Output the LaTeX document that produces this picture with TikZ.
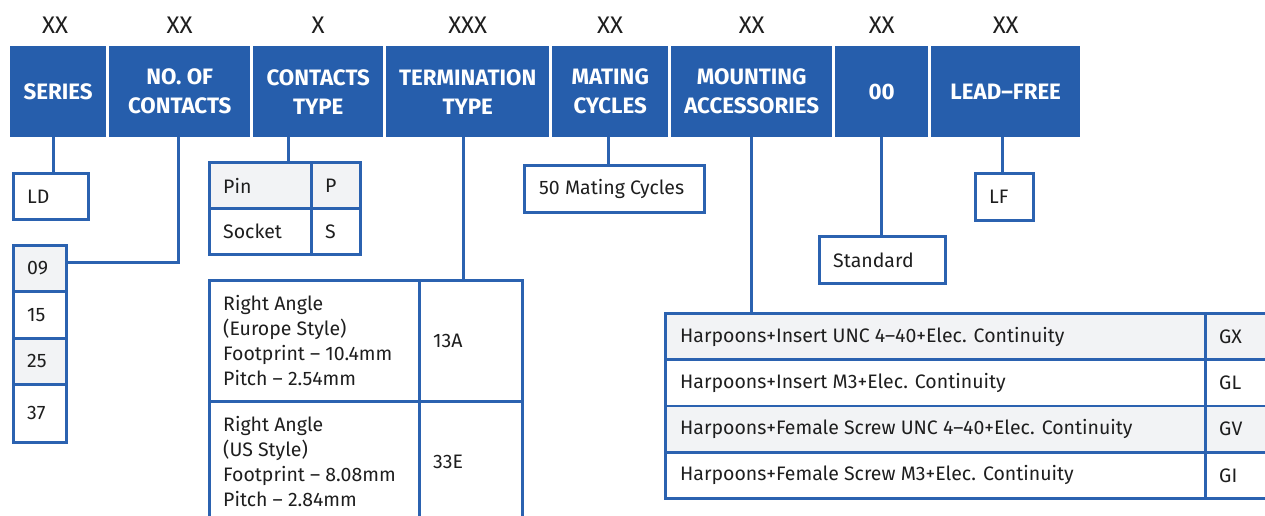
\documentclass[tikz,border=0pt]{standalone}
\usepackage{fontspec}
\setmainfont{Fira Sans}
\definecolor{hblue}{HTML}{265EAC}
\definecolor{lblue}{HTML}{2B62B0}
\definecolor{cgrey}{HTML}{F2F3F5}
\definecolor{txt}{HTML}{1E1E1E}
\begin{document}
\begin{tikzpicture}[x=1pt,y=-1pt,
  hdr/.style={fill=hblue, text=white, font=\fontsize{22.3}{29}\selectfont\bfseries, align=center, anchor=north west, inner sep=0pt, minimum height=91pt},
  code/.style={text=txt, font=\fontsize{24}{25}\selectfont, inner sep=0pt},
  cell/.style={draw=lblue, line width=2.9pt, anchor=north west, inner sep=0pt},
  shaded/.style={fill=cgrey},
  lbl/.style={anchor=west, align=left, inner sep=0pt, text=txt, font=\fontsize{19.5}{25}\selectfont},
  conn/.style={draw=lblue, line width=2.9pt}]
\useasboundingbox (0,0) rectangle (1265,515);
\clip (0,0) rectangle (1265,515);

% header boxes
\node[hdr, minimum width=96pt]  (series) at (10,46)  {SERIES};
\node[hdr, minimum width=141pt] (noc)    at (109,46) {NO. OF\\CONTACTS};
\node[hdr, minimum width=130pt] (ctype)  at (253,46) {CONTACTS\\TYPE};
\node[hdr, minimum width=163pt] (term)   at (386,46) {TERMINATION\\TYPE};
\node[hdr, minimum width=116pt] (mat)    at (552,46) {MATING\\CYCLES};
\node[hdr, minimum width=161pt] (mount)  at (671,46) {MOUNTING\\ACCESSORIES};
\node[hdr, minimum width=93pt]  (zz)     at (835,46) {00};
\node[hdr, minimum width=149pt] (lead)   at (931,46) {LEAD--FREE};

% code letters
\node[code] (c1) at ([xshift=-3pt,yshift=21pt]series.north) {XX};
\node[code] (c2) at ([yshift=21pt]noc.north)    {XX};
\node[code] (c3) at ([yshift=21pt]ctype.north)  {X};
\node[code] (c4) at ([yshift=21pt]term.north)   {XXX};
\node[code] (c5) at ([yshift=21pt]mat.north)    {XX};
\node[code] (c6) at ([yshift=21pt]mount.north)  {XX};
\node[code] (c7) at ([yshift=21pt]zz.north)     {XX};
\node[code] (c8) at ([yshift=21pt]lead.north)   {XX};

% series
\node[cell, minimum width=75pt, minimum height=46pt] (ld) at (12,172) {};
\node[lbl] (ldt) at ([xshift=15pt]ld.west) {LD};

% number of contacts
\node[cell, shaded, minimum width=53pt, minimum height=46pt] (n09) at (12,244) {};
\node[cell, minimum width=53pt, minimum height=47pt] (n15) at (12,290) {};
\node[cell, shaded, minimum width=53pt, minimum height=46pt] (n25) at (12,337) {};
\node[cell, minimum width=53pt, minimum height=58pt] (n37) at (12,383) {};
\node[lbl] (n09t) at ([xshift=15pt]n09.west) {09};
\node[lbl] (n15t) at ([xshift=15pt]n15.west) {15};
\node[lbl] (n25t) at ([xshift=15pt]n25.west) {25};
\node[lbl] (n37t) at ([xshift=15pt]n37.west) {37};

% contacts type
\node[cell, shaded, minimum width=102pt, minimum height=46pt] (pin) at (208,161) {};
\node[cell, shaded, minimum width=49pt, minimum height=46pt] (pinc) at (310,161) {};
\node[cell, minimum width=102pt, minimum height=46pt] (soc) at (208,207) {};
\node[cell, minimum width=49pt, minimum height=46pt] (socc) at (310,207) {};
\node[lbl] (pint) at ([xshift=15pt]pin.west) {Pin};
\node[lbl] (pinct) at ([xshift=15pt]pinc.west) {P};
\node[lbl] (soct) at ([xshift=15pt]soc.west) {Socket};
\node[lbl] (socct) at ([xshift=15pt]socc.west) {S};

% termination type
\node[cell, minimum width=210pt, minimum height=121pt] (ta) at (208,279) {};
\node[cell, minimum width=103pt, minimum height=121pt] (tac) at (418,279) {};
\node[cell, minimum width=210pt, minimum height=121pt] (tb) at (208,400) {};
\node[cell, minimum width=103pt, minimum height=121pt] (tbc) at (418,400) {};
\node[lbl] (tat) at ([xshift=15pt]ta.west) {Right Angle\\(Europe Style)\\Footprint -- 10.4mm\\Pitch -- 2.54mm};
\node[lbl] (tact) at ([xshift=15pt]tac.west) {13A};
\node[lbl] (tbt) at ([xshift=15pt]tb.west) {Right Angle\\(US Style)\\Footprint -- 8.08mm\\Pitch -- 2.84mm};
\node[lbl] (tbct) at ([xshift=15pt]tbc.west) {33E};

% mating cycles
\node[cell, minimum width=180pt, minimum height=47pt] (mc) at (523,164) {};
\node[lbl] (mct) at ([xshift=16pt]mc.west) {50 Mating Cycles};

% mounting accessories
\node[cell, shaded, minimum width=540pt, minimum height=46.25pt] (m1) at (664,312) {};
\node[cell, shaded, minimum width=100pt, minimum height=46.25pt] (m1c) at (1204,312) {};
\node[cell, minimum width=540pt, minimum height=46.25pt] (m2) at (664,358.25) {};
\node[cell, minimum width=100pt, minimum height=46.25pt] (m2c) at (1204,358.25) {};
\node[cell, shaded, minimum width=540pt, minimum height=46.25pt] (m3) at (664,404.5) {};
\node[cell, shaded, minimum width=100pt, minimum height=46.25pt] (m3c) at (1204,404.5) {};
\node[cell, minimum width=540pt, minimum height=46.25pt] (m4) at (664,450.75) {};
\node[cell, minimum width=100pt, minimum height=46.25pt] (m4c) at (1204,450.75) {};
\node[lbl] (m1t) at ([xshift=16pt]m1.west) {Harpoons+Insert UNC 4--40+Elec. Continuity};
\node[lbl] (m2t) at ([xshift=16pt]m2.west) {Harpoons+Insert M3+Elec. Continuity};
\node[lbl] (m3t) at ([xshift=16pt]m3.west) {Harpoons+Female Screw UNC 4--40+Elec. Continuity};
\node[lbl] (m4t) at ([xshift=16pt]m4.west) {Harpoons+Female Screw M3+Elec. Continuity};
\node[lbl] (m1ct) at ([xshift=15pt]m1c.west) {GX};
\node[lbl] (m2ct) at ([xshift=15pt]m2c.west) {GL};
\node[lbl] (m3ct) at ([xshift=15pt]m3c.west) {GV};
\node[lbl] (m4ct) at ([xshift=15pt]m4c.west) {GI};

% 00
\node[cell, minimum width=126pt, minimum height=47pt] (std) at (818,235) {};
\node[lbl] (stdt) at ([xshift=15pt]std.west) {Standard};

% lead free
\node[cell, minimum width=58pt, minimum height=47pt] (lf) at (974,172) {};
\node[lbl] (lft) at ([xshift=15pt]lf.west) {LF};

% connectors
\draw[conn] ([xshift=-5pt]series.south) -- ([xshift=-5pt]series.south |- ld.north);
\draw[conn] ([xshift=-1.5pt]noc.south) |- ([yshift=6pt]n09.east);
\draw[conn] ([xshift=-30pt]ctype.south) -- ([xshift=-30pt]ctype.south |- pin.north);
\draw[conn] ([xshift=-4.5pt]term.south) -- ([xshift=-4.5pt]term.south |- ta.north);
\draw[conn] ([xshift=-2pt]mat.south) -- ([xshift=-2pt]mat.south |- mc.north);
\draw[conn] (mount.south) -- (mount.south |- m1.north);
\draw[conn] (zz.south) -- (zz.south |- std.north);
\draw[conn] ([xshift=-3.5pt]lead.south) -- ([xshift=-3.5pt]lead.south |- lf.north);
\end{tikzpicture}
\end{document}
